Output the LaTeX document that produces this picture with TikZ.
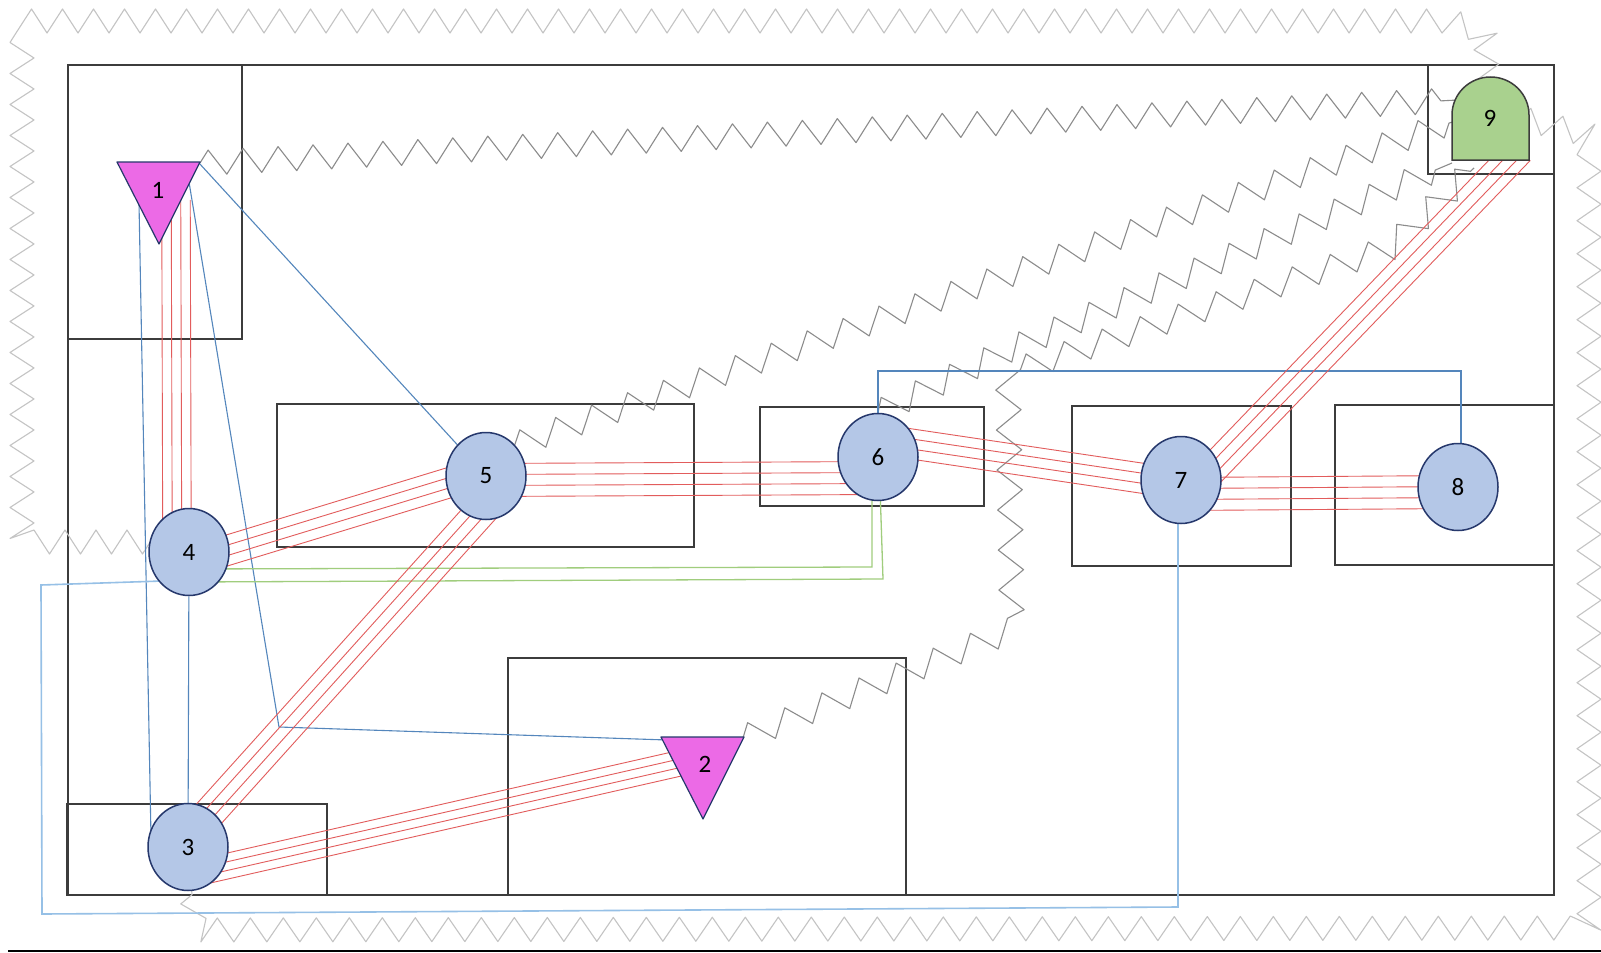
\documentclass[tikz,border=0pt]{standalone}
\usepackage{fontspec}
\setmainfont{Carlito}
\usetikzlibrary{calc,shapes.geometric,decorations.pathmorphing}
\definecolor{nfill}{RGB}{180,199,231}
\definecolor{ndraw}{RGB}{38,56,108}
\definecolor{trifill}{RGB}{236,106,230}
\definecolor{ninefill}{RGB}{169,209,142}
\definecolor{redl}{RGB}{226,92,92}
\definecolor{blued}{RGB}{84,134,188}
\definecolor{bluelt}{RGB}{150,192,230}
\definecolor{greenl}{RGB}{160,205,125}
\definecolor{zzdark}{RGB}{140,140,140}
\definecolor{zzlight}{RGB}{196,196,196}
\definecolor{boxc}{RGB}{60,60,60}
\pgfdeclarelayer{back}
\pgfdeclarelayer{mid}
\pgfsetlayers{back,mid,main}
\newcommand\rbundle[3]{%
  \path #1 coordinate (rbA);
  \path #2 coordinate (rbB);
  \foreach \k in {-1.5,-0.5,0.5,1.5}{%
    \draw[redline] ($(rbA)!\k*#3!90:(rbB)$) -- ($(rbB)!\k*#3!-90:(rbA)$);
  }%
}
\begin{document}
\begin{tikzpicture}[x=1pt,y=-1pt,
  bnode/.style={ellipse, draw=ndraw, fill=nfill, line width=1.5pt, minimum width=80pt, minimum height=87pt, inner sep=0pt, font=\fontsize{25pt}{25pt}\selectfont},
  lbl/.style={inner sep=0pt, font=\fontsize{25pt}{25pt}\selectfont},
  trishape/.style={fill=trifill, draw=ndraw, line width=1.2pt, line join=round},
  nineshape/.style={fill=ninefill, draw=boxc, line width=1.5pt},
  boxl/.style={draw=boxc, line width=1.8pt},
  redline/.style={draw=redl, line width=0.9pt},
  bluel/.style={draw=blued, line width=1.1pt},
  bluelight/.style={draw=bluelt, line width=1.6pt},
  greenl/.style={draw=greenl, line width=1.3pt},
  zin/.style={draw=zzdark, line width=1.1pt, line join=round, decorate, decoration={zigzag, segment length=#1, amplitude=12.5pt}},
  zout/.style={draw=zzlight, line width=1.1pt, line join=round, decorate, decoration={zigzag, segment length=#1, amplitude=12pt}}
]
\useasboundingbox (0,0) rectangle (1601,953);
\clip (0,0) rectangle (1601,953);

% ---------- nodes (main layer) ----------
\path[trishape] (117,162) -- (200,162) -- (159,244) -- cycle;
\node[lbl] (t1) at (158,190) {1};
\path[trishape] (661,737) -- (744,737) -- (703,819) -- cycle;
\node[lbl] (t2) at (705,764) {2};
\path[nineshape] (1452,160) -- (1452,115) arc[start angle=180, end angle=0, x radius=38.5pt, y radius=38pt] -- (1529,160) -- cycle;
\node[lbl] (l9) at (1490,118) {9};
\node[bnode] (n4) at (189,552) {4};
\node[bnode] (n3) at (188,847) {3};
\node[bnode] (n5) at (486,476) {5};
\node[bnode] (n6) at (878,457) {6};
\node[bnode] (n7) at (1181,480) {7};
\node[bnode] (n8) at (1458,487) {8};

% ---------- areas (back layer) ----------
\begin{pgfonlayer}{back}
\fill[white] (0,0) rectangle (1601,953);
\draw[boxl] (68,65) rectangle (1554,895);
\draw[boxl] (68,65) rectangle (242,339);
\draw[boxl] (1428,65) rectangle (1554,174);
\draw[boxl] (277,404) rectangle (694,547);
\draw[boxl] (760,407) rectangle (984,506);
\draw[boxl] (1072,406) rectangle (1291,566);
\draw[boxl] (1335,405) rectangle (1554,565);
\draw[boxl] (67,804) rectangle (327,895);
\draw[boxl] (508,658) rectangle (906,895);
\draw[draw=black, line width=2pt] (8,951) -- (1601,951);
\end{pgfonlayer}

% ---------- connectors (mid layer) ----------
\begin{pgfonlayer}{mid}
% zigzag links from 9
\draw[zout=31pt] ($(l9)+(-2,-30)$) -- (1485,32) -- (1450,21) -- (22,21) -- (22,542) -- ($(n4)+(-30,-10)$);
\draw[zout=33pt] ($(l9)+(30,0)$) -- (1589,135) -- (1589,928) -- (195,930) -- (n3);
\draw[zin=35pt] ($(t1)+(42,-27)$) -- ($(l9)+(-32,-18)$);
\draw[zin=38pt] (n5.north east) -- ($(l9)+(-32,2)$);
\draw[zin=38pt] (n6.north) -- (1008,350) -- ($(l9)+(-38,45)$);
\draw[zin=40pt] ($(t2)+(38,-26)$) -- (1012,630) -- (1008,373) -- (1390,248) -- ($(l9)+(-16,50)$);

% blue links
\draw[bluel] ($(t1)+(-19,13)$) -- ($(n3)+(-37,-10)$);
\coordinate (bend1) at (279,727);
\draw[bluel] ($(t1)+(31,-8)$) -- (bend1) -- ($(t2)+(-38,-24)$);
\draw[bluel] ($(t1)+(41,-27)$) -- (n5);
\draw[bluel] (n4) -- (n3);
\coordinate (bl1) at (41,585);
\coordinate (bl2) at (42,914);
\coordinate (bl3) at (1178,907);
\draw[bluelight] ($(n4)+(-27,29)$) -- (bl1) -- (bl2) -- (bl3) -- ($(n7)+(-3,0)$);
\coordinate (b6a) at (878,371);
\coordinate (b6b) at (1461,371);
\draw[bluel] (n6) -- (b6a) -- (b6b) -- ($(n8)+(3,0)$);

% green links
\coordinate (g1) at (872,567);
\coordinate (g2) at (883,579);
\draw[greenl] ($(n6)+(-6,0)$) -- (g1) -- ($(n4)+(0,17)$);
\draw[greenl] ($(n6)+(1,0)$) -- (g2) -- ($(n4)+(0,30)$);

% red bundles
\rbundle{($(t1)+(18,10)$)}{($(n4)+(-12,0)$)}{9.5pt}
\rbundle{($(n4)+(0,10)$)}{($(n5)+(0,-4.5)$)}{10pt}
\rbundle{($(n5)+(0,4)$)}{($(n6)+(0,21)$)}{11pt}
\rbundle{($(n6)+(0,-18)$)}{($(n7)+(0,4)$)}{10pt}
\rbundle{($(n7)+(0,14)$)}{($(n8)+(0,5)$)}{11pt}
\rbundle{($(n7)+(21,0)$)}{($(l9)+(29.5,32)$)}{10pt}
\rbundle{($(n5)+(27,0)$)}{($(n3)+(-9,0)$)}{10.5pt}
\rbundle{($(n3)+(0,28)$)}{($(t2)+(-2,-6)$)}{8.5pt}
\end{pgfonlayer}
\end{tikzpicture}
\end{document}
